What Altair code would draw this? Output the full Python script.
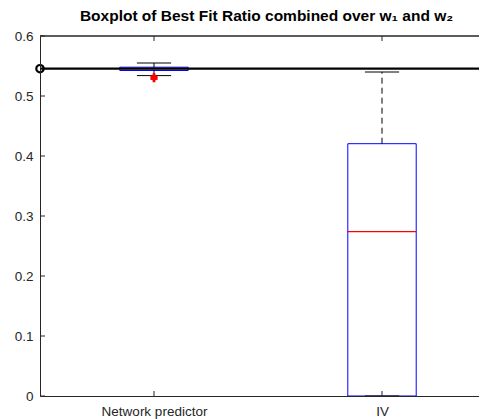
import altair as alt
import pandas as pd

# ---- data ----
categories = ["Network predictor", "IV"]
positions = [1, 2]
q1 = [0.5425, 0.0]
q3 = [0.548, 0.4205]
medians = [0.5455, 0.274]
whisker_low = [0.534, 0.0]
whisker_high = [0.555, 0.540]
outlier_cat = ["Network predictor", "Network predictor"]
outlier_val = [0.532, 0.529]
reference_value = 0.5455
y_ticks = [0, 0.1, 0.2, 0.3, 0.4, 0.5, 0.6]

BOX_HALF = 0.15
CAP_HALF = 0.075
W, H = 439, 360
AX = "#262626"
FONT = "Liberation Sans"

box_df = pd.DataFrame({
    "cat": categories, "pos": positions, "q1": q1, "q3": q3,
    "median": medians, "wlo": whisker_low, "whi": whisker_high,
})
box_df["left"] = box_df["pos"] - BOX_HALF
box_df["right"] = box_df["pos"] + BOX_HALF
box_df["cleft"] = box_df["pos"] - CAP_HALF
box_df["cright"] = box_df["pos"] + CAP_HALF

pos_of = dict(zip(categories, positions))
out_df = pd.DataFrame({"cat": outlier_cat, "val": outlier_val})
out_df["pos"] = out_df["cat"].map(pos_of)

ref_df = pd.DataFrame({"x": [0.5], "y": [reference_value]})
ytick_df = pd.DataFrame({"v": y_ticks})
xtick_df = pd.DataFrame({"pos": positions})

label_expr = " : ".join(
    [f"datum.value == {p} ? '{c}'" for p, c in zip(positions, categories)]
) + " : ''"

xs = alt.Scale(domain=[0.5, 2.4254], nice=False, zero=False)
ys = alt.Scale(domain=[0, 0.6], nice=False, zero=False)

base = alt.Chart(box_df)

boxes = base.mark_rect(fillOpacity=0, stroke="#0000ff", strokeWidth=1).encode(
    x=alt.X("left:Q", scale=xs, axis=alt.Axis(
        values=positions, labelExpr=label_expr, title=None, grid=False,
        ticks=False, domainColor=AX, labelPadding=8, labelFlush=False,
        zindex=1)),
    x2="right:Q",
    y=alt.Y("q1:Q", scale=ys, axis=alt.Axis(
        values=y_ticks, format="~g", title=None, grid=False, ticks=False,
        domainColor=AX, labelPadding=7, zindex=1)),
    y2="q3:Q",
)
median = base.mark_rule(color="#ff0000", strokeWidth=1.2).encode(
    x="left:Q", x2="right:Q", y="median:Q")
w_up = base.mark_rule(color="#000000", strokeWidth=1, strokeDash=[6, 4]).encode(
    x="pos:Q", y="q3:Q", y2="whi:Q")
w_lo = base.mark_rule(color="#000000", strokeWidth=1, strokeDash=[6, 4]).encode(
    x="pos:Q", y="wlo:Q", y2="q1:Q")
cap_up = base.mark_rule(color="#000000", strokeWidth=1).encode(
    x="cleft:Q", x2="cright:Q", y="whi:Q")
cap_lo = base.mark_rule(color="#000000", strokeWidth=1).encode(
    x="cleft:Q", x2="cright:Q", y="wlo:Q")

outliers = alt.Chart(out_df).mark_point(
    shape="cross", filled=True, color="#ff0000", size=50, opacity=1).encode(
    x="pos:Q", y="val:Q")

ref_line = alt.Chart(ref_df).mark_rule(color="#000000", strokeWidth=2.2).encode(
    y="y:Q")
ref_pt = alt.Chart(ref_df).mark_point(
    shape="circle", filled=False, color="#000000", strokeWidth=2.2, size=55,
    opacity=1, clip=False).encode(x="x:Q", y="y:Q")

ytick = alt.Chart(ytick_df).mark_rule(color=AX, strokeWidth=1).encode(
    y="v:Q", x=alt.value(0), x2=alt.value(5))
xtick_b = alt.Chart(xtick_df).mark_rule(color=AX, strokeWidth=1).encode(
    x="pos:Q", y=alt.value(H), y2=alt.value(H - 5))
xtick_t = alt.Chart(xtick_df).mark_rule(color=AX, strokeWidth=1).encode(
    x="pos:Q", y=alt.value(0), y2=alt.value(5))
top_border = alt.Chart(xtick_df).mark_rule(color=AX, strokeWidth=1).encode(
    y=alt.value(0), x=alt.value(0), x2=alt.value(W))

chart = alt.layer(
    top_border, boxes, median, w_up, w_lo, cap_up, cap_lo, outliers,
    ref_line, ref_pt, ytick, xtick_b, xtick_t,
).properties(
    width=W, height=H,
    title=alt.TitleParams(
        "Boxplot of Best Fit Ratio combined over w\u2081 and w\u2082",
        fontSize=15.5, fontWeight="bold", font=FONT, color="#000000",
        anchor="middle", offset=5, dx=7),
    autosize="none",
    padding={"left": 32, "top": 28, "right": 0, "bottom": 26},
).configure_view(stroke=None).configure_axis(
    labelFont=FONT, labelFontSize=13.5, labelColor=AX, domainWidth=1,
)

chart.save("out.html", embed_options={"renderer": "svg", "actions": False})
